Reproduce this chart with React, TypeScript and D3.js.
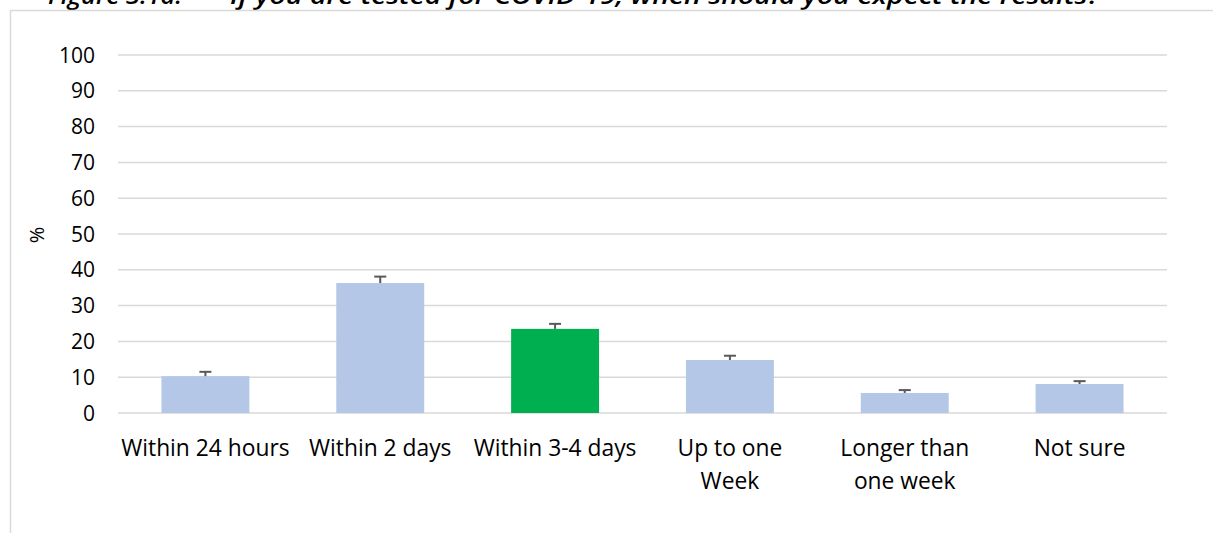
import React, { useEffect, useRef } from "react";
import * as d3 from "d3";

const categories: string[][] = [
  ["Within 24 hours"],
  ["Within 2 days"],
  ["Within 3-4 days"],
  ["Up to one", "Week"],
  ["Longer than", "one week"],
  ["Not sure"],
];
const values: number[] = [10.3, 36.3, 23.5, 14.8, 5.6, 8.1];
const errorsPlus: number[] = [1.2, 1.8, 1.4, 1.2, 0.8, 0.8];
const highlightIndex = 2;
const yTicks: number[] = [0, 10, 20, 30, 40, 50, 60, 70, 80, 90, 100];
const titleLabel = "Figure 3.1a:";
const titleText = "If you are tested for COVID-19, when should you expect the results?";
const yLabel = "%";

const W = 1213;
const H = 533;
const FONT = "'Open Sans', 'DejaVu Sans', sans-serif";

export default function App() {
  const ref = useRef<SVGSVGElement | null>(null);

  useEffect(() => {
    document.body.style.margin = "0";
    const svg = d3.select(ref.current);
    svg.selectAll("*").remove();

    const left = 118, right = 1167, top = 55, bottom = 413;
    const x = d3.scaleBand<number>().domain(d3.range(categories.length)).range([left, right]).paddingInner(0.497).paddingOuter(0.2485);
    const y = d3.scaleLinear().domain([0, 100]).range([bottom, top]);

    // title (clipped at top, as in the reference)
    svg.append("text").attr("x", 48).attr("y", 4).attr("font-family", FONT).attr("font-size", 23)
      .attr("font-style", "italic").attr("font-weight", 600).attr("fill", "#000")
      .attr("textLength", 134).attr("lengthAdjust", "spacingAndGlyphs").text(titleLabel);
    svg.append("text").attr("x", 230).attr("y", 4).attr("font-family", FONT).attr("font-size", 23)
      .attr("font-style", "italic").attr("font-weight", 600).attr("fill", "#000")
      .attr("textLength", 870).attr("lengthAdjust", "spacingAndGlyphs").text(titleText);

    // chart frame
    svg.append("rect").attr("x", 10.5).attr("y", 10.5).attr("width", W + 20).attr("height", H + 20)
      .attr("fill", "#fff").attr("stroke", "#D9D9D9").attr("stroke-width", 1.5);

    // gridlines
    svg.append("g").selectAll("line").data(yTicks).join("line")
      .attr("x1", left).attr("x2", right)
      .attr("y1", (d) => y(d)).attr("y2", (d) => y(d))
      .attr("stroke", "#D9D9D9").attr("stroke-width", 1.5);

    // y tick labels
    svg.append("g").selectAll("text").data(yTicks).join("text")
      .attr("x", 95).attr("y", (d) => y(d)).attr("dy", "0.36em")
      .attr("text-anchor", "end").attr("font-family", FONT).attr("font-size", 21).attr("fill", "#000")
      .text((d) => String(d));

    // y label
    svg.append("text").attr("transform", `translate(44,235) rotate(-90)`)
      .attr("text-anchor", "middle").attr("font-family", FONT).attr("font-size", 20).attr("fill", "#000")
      .text(yLabel);

    // bars
    svg.append("g").selectAll("rect").data(values).join("rect")
      .attr("x", (_, i) => x(i)!).attr("width", x.bandwidth())
      .attr("y", (d) => y(d)).attr("height", (d) => y(0) - y(d))
      .attr("fill", (_, i) => (i === highlightIndex ? "#00B050" : "#B4C7E7"));

    // error bars (plus only)
    const eb = svg.append("g").attr("stroke", "#595959").attr("stroke-width", 2);
    values.forEach((v, i) => {
      const cx = x(i)! + x.bandwidth() / 2;
      eb.append("line").attr("x1", cx).attr("x2", cx).attr("y1", y(v)).attr("y2", y(v + errorsPlus[i]));
      eb.append("line").attr("x1", cx - 6).attr("x2", cx + 6).attr("y1", y(v + errorsPlus[i])).attr("y2", y(v + errorsPlus[i]));
    });

    // category labels
    const cg = svg.append("g");
    categories.forEach((lines, i) => {
      const cx = x(i)! + x.bandwidth() / 2;
      const t = cg.append("text").attr("text-anchor", "middle").attr("font-family", FONT)
        .attr("font-size", 22.8).attr("fill", "#000");
      lines.forEach((ln, j) => {
        t.append("tspan").attr("x", cx).attr("y", 456 + j * 33).text(ln);
      });
    });
  }, []);

  return <svg ref={ref} width={W} height={H} style={{ display: "block", position: "absolute", left: 0, top: 0 }} />;
}
